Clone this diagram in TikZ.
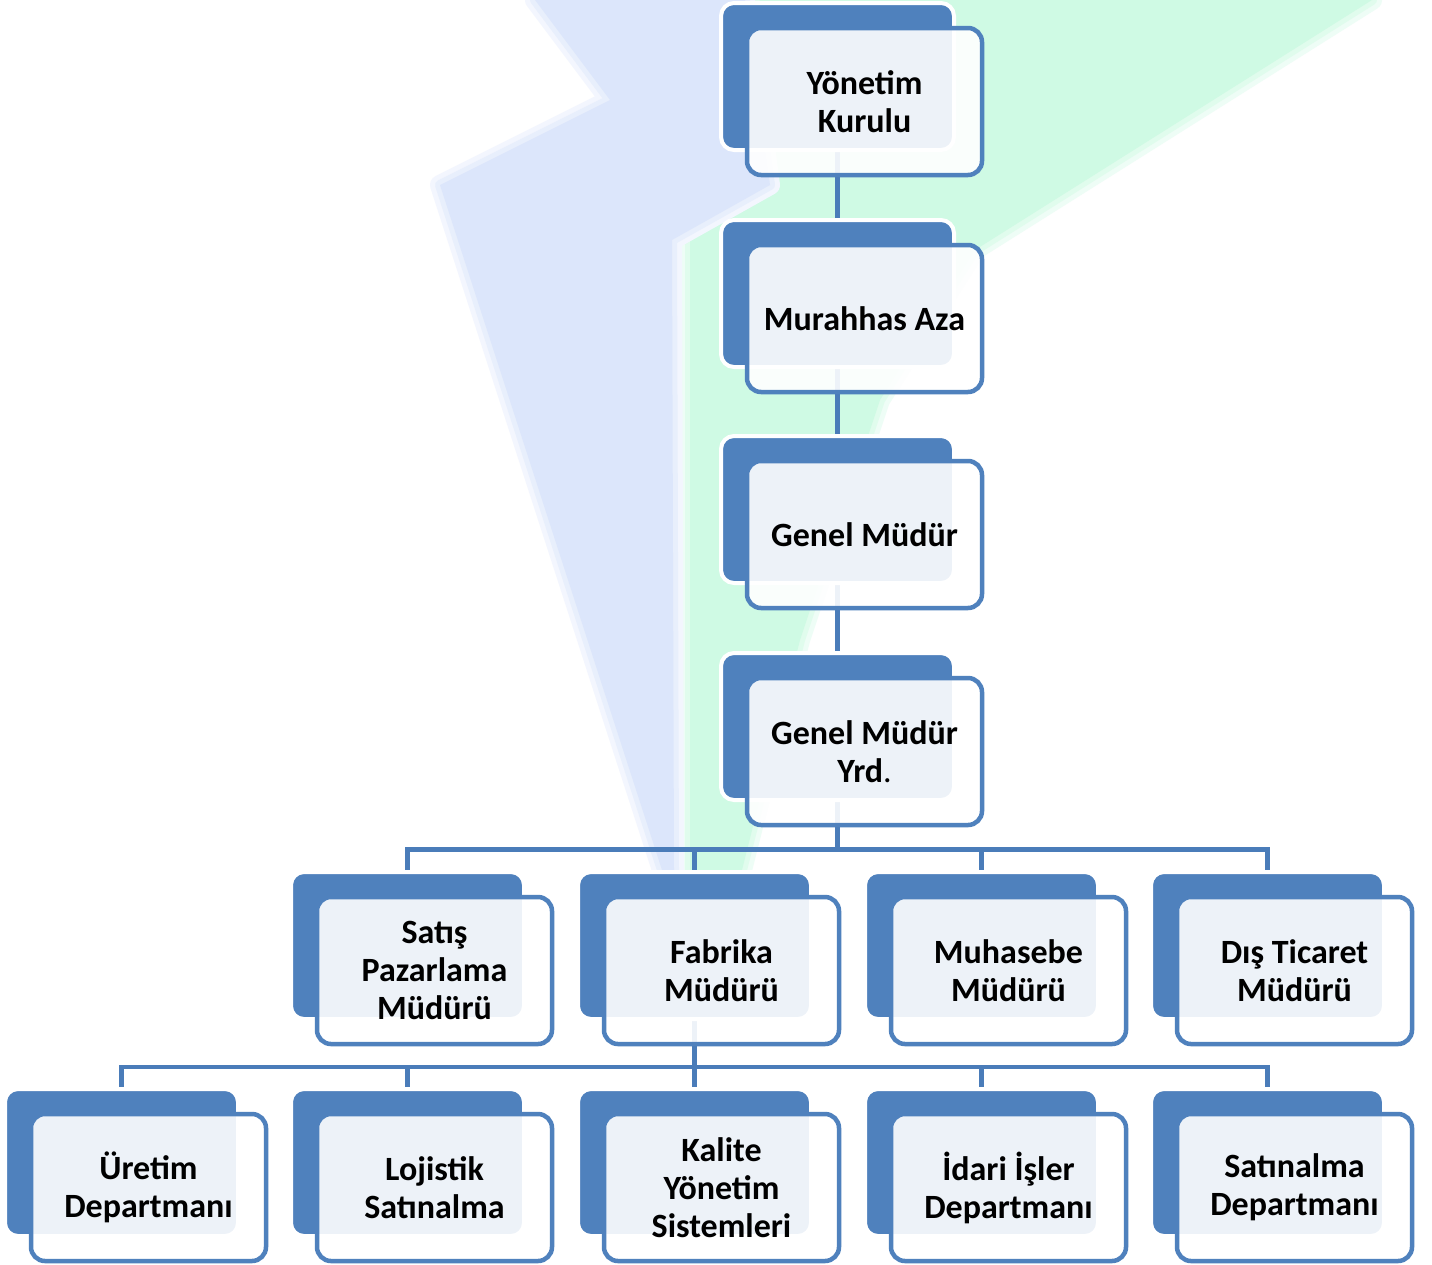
\documentclass[tikz,border=0pt]{standalone}
\usepackage{fontspec}
\setmainfont{Carlito}
\definecolor{boxblue}{HTML}{4F81BD}
\definecolor{linkblue}{HTML}{4A7CB9}
\definecolor{bgblue}{RGB}{220,230,251}
\definecolor{bggreen}{RGB}{207,250,228}
\pgfdeclarelayer{bgshape}
\pgfdeclarelayer{connlayer}
\pgfsetlayers{bgshape,connlayer,main}
\tikzset{
  backbox/.style={rectangle, rounded corners=13pt, fill=boxblue, draw=white, line width=4pt,
    minimum width=233pt, minimum height=147pt, inner sep=0pt},
  frontbox/.style={rectangle, rounded corners=14pt, draw=boxblue, line width=4.5pt, fill=white,
    fill opacity=0.9, text opacity=1, minimum width=235pt, minimum height=147pt, inner sep=0pt,
    align=center, font=\fontsize{34}{38}\selectfont\bfseries, text=black},
  conn/.style={draw=linkblue, line width=4.5pt},
  softedge/.style={line width=#1, line join=round},
}
\newcommand\orgbox[4]{%
  \node[backbox] (#1-b) at (#2+114.5, #3+71.5) {};
  \node[frontbox] (#1) at (#2+141.5, #3+96.5) {#4};
}
\begin{document}
\begin{tikzpicture}[x=1pt,y=-1pt]
\useasboundingbox (0,0) rectangle (1432,1264);
\begin{pgfonlayer}{bgshape}
  \fill[white] (0,0) rectangle (1432,1264);
  \def\greenpath{(690,870) -- (742,870) -- (800,640) -- (880,400) -- (975,250) -- (1372,0)
    -- (760,0) -- (690,200) -- cycle}
  \def\bluepath{(535,0) -- (610,100) -- (440,185) -- (662,870) -- (674,870) -- (672,240)
    -- (770,185) -- (745,0) -- cycle}
  \draw[bggreen!35, softedge=20pt] \greenpath;
  \draw[bggreen!65, softedge=10pt] \greenpath;
  \fill[bggreen] \greenpath;
  \draw[bgblue!35, softedge=20pt] \bluepath;
  \draw[bgblue!65, softedge=10pt] \bluepath;
  \fill[bgblue] \bluepath;
\end{pgfonlayer}

\orgbox{yk}{723}{5}{Yönetim\\Kurulu}
\orgbox{ma}{723}{222}{Murahhas Aza}
\orgbox{gm}{723}{438}{Genel Müdür}
\orgbox{gmy}{723}{655}{Genel Müdür\\Yrd{\mdseries.}}

\orgbox{sp}{293}{874}{Satış\\Pazarlama\\Müdürü}
\orgbox{fm}{580}{874}{Fabrika\\Müdürü}
\orgbox{mm}{867}{874}{Muhasebe\\Müdürü}
\orgbox{dt}{1153}{874}{Dış Ticaret\\Müdürü}

\orgbox{ud}{7}{1091}{Üretim\\Departmanı}
\orgbox{ls}{293}{1091}{Lojistik\\Satınalma}
\orgbox{ky}{580}{1091}{Kalite\\Yönetim\\Sistemleri}
\orgbox{ii}{867}{1091}{İdari İşler\\Departmanı}
\orgbox{sd}{1153}{1091}{Satınalma\\Departmanı}

\coordinate (bus1) at (0,849.5);
\coordinate (bus2) at (0,1067);

\begin{pgfonlayer}{connlayer}
  \draw[conn] (yk-b.south) -- (ma-b.north);
  \draw[conn] (ma-b.south) -- (gm-b.north);
  \draw[conn] (gm-b.south) -- (gmy-b.north);
  \foreach \c in {sp,fm,mm,dt}
    \draw[conn] (gmy-b.south) -- (gmy-b.south |- bus1) -| (\c-b.north);
  \foreach \c in {ud,ls,ky,ii,sd}
    \draw[conn] (fm-b.south) -- (fm-b.south |- bus2) -| (\c-b.north);
\end{pgfonlayer}
\end{tikzpicture}
\end{document}
